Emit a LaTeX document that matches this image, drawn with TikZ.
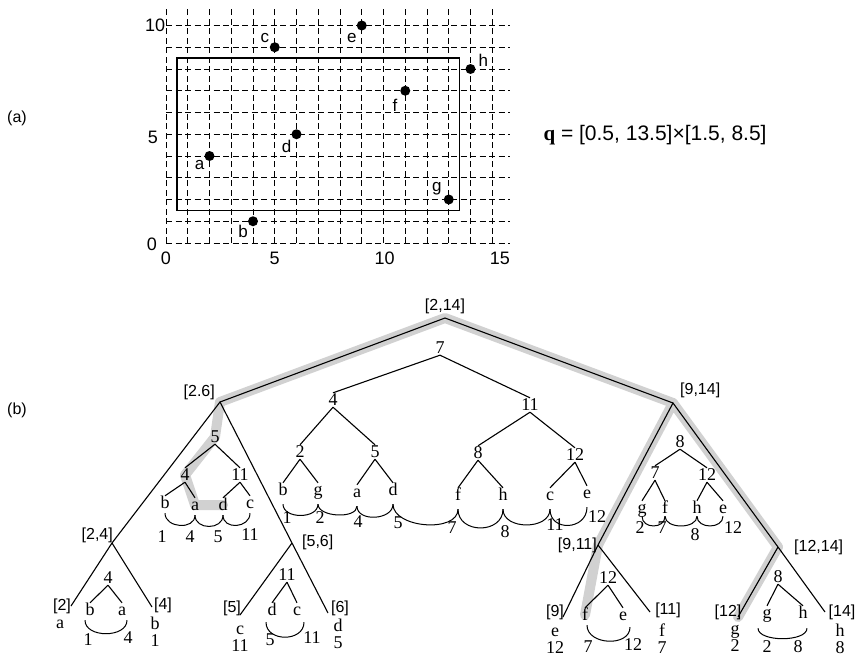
\documentclass[tikz,border=0pt]{standalone}
\usepackage{fontspec}
\setmainfont{Liberation Serif}
\setsansfont{Liberation Sans}
\usetikzlibrary{backgrounds,decorations.pathreplacing}
\newcommand{\fsz}[1]{\fontsize{#1}{#1}\selectfont}

\begin{document}
\begin{tikzpicture}[x=1pt, y=-1pt,
    grid line/.style={dash pattern=on 6pt off 3.5pt, line width=0.8pt},
    pt dot/.style={circle, fill, inner sep=0pt, minimum size=10pt},
    pt lab/.style={font=\sffamily\fsz{17}, inner sep=0pt},
    tick lab/.style={font=\sffamily\fsz{18}, inner sep=0pt},
    rng/.style={font=\sffamily\fsz{16}, inner sep=0pt},
    lbl/.style={font=\rmfamily\fsz{18}, inner sep=0pt, text height=12pt, text depth=2pt},
    stack/.style={font=\rmfamily\fontsize{18}{17}\selectfont, inner sep=0pt, align=center, anchor=north},
    hl band/.style={line width=10pt, black!18, line cap=round, line join=round},
    tline/.style={line width=1.1pt},
    hashed/.style={postaction={decorate, decoration={ticks, segment length=3pt, amplitude=2.5pt}}},
    arcline/.style={line width=1pt}]
\useasboundingbox (0,0) rectangle (863,657);

% (a) point set and query rectangle
\node[font=\sffamily\fsz{16}] (tagA) at (17,118) {(a)};
\begin{scope}[shift={(166,243)}, x=21.75pt, y=21.75pt]
  \foreach \i in {0,...,10}
    \draw[grid line] (0,\i) -- (15.8,\i);
  \foreach \i in {0,...,15}
    \draw[grid line] (\i,0) -- (\i,10.8);
  \draw[line width=1.3pt] (0.5,1.5) rectangle (13.5,8.5);
  \node[tick lab] (xt0) at (0,-0.7) {0};
  \node[tick lab] (xt5) at (5,-0.7) {5};
  \node[tick lab] (xt10) at (10.05,-0.7) {10};
  \node[tick lab] (xt15) at (15.35,-0.7) {15};
  \node[tick lab] (yt0) at (-0.65,-0.05) {0};
  \node[tick lab] (yt5) at (-0.6,4.85) {5};
  \node[tick lab] (yt10) at (-0.5,10) {10};
  \node[pt dot] (pa) at (2,4) {};
  \node[pt dot] (pb) at (4,1) {};
  \node[pt dot] (pc) at (5,9) {};
  \node[pt dot] (pd) at (6,5) {};
  \node[pt dot] (pe) at (9,10) {};
  \node[pt dot] (pf) at (11,7) {};
  \node[pt dot] (pg) at (13,2) {};
  \node[pt dot] (ph) at (14,8) {};
  \node[pt lab] (la) at (1.55,3.6) {a};
  \node[pt lab] (lb) at (3.55,0.52) {b};
  \node[pt lab] (lc) at (4.55,9.41) {c};
  \node[pt lab] (ld) at (5.55,4.43) {d};
  \node[pt lab] (le) at (8.54,9.41) {e};
  \node[pt lab] (lf) at (10.53,6.34) {f};
  \node[pt lab] (lg) at (12.45,2.51) {g};
  \node[pt lab] (lh) at (14.59,8.41) {h};
\end{scope}
\node[anchor=west, font=\sffamily\fsz{21}] (qrange) at (540,135) {{\rmfamily\bfseries q} = [0.5, 13.5]×[1.5, 8.5]};

% (b) range tree
\node[font=\sffamily\fsz{16}] (tagB) at (17,410) {(b)};
\coordinate (r) at (445,318);
\coordinate (L) at (220,402);
\coordinate (R) at (673,403);
\coordinate (L24) at (112,543);
\coordinate (L56) at (292,543);
\coordinate (R911) at (598,545);
\coordinate (R1214) at (778,547);
\coordinate (E2) at (71,606);
\coordinate (E4) at (152,607);
\coordinate (E5) at (240,615);
\coordinate (E6) at (328,613);
\coordinate (E9) at (563,617);
\coordinate (E11) at (650,612);
\coordinate (E12) at (738,617);
\coordinate (E14) at (825,612);

\node[rng, anchor=south] (n214) at (445,314) {[2,14]};
\node[rng, anchor=south east] (n26) at (215,400) {[2.6]};
\node[rng, anchor=south west] (n914) at (680,398) {[9,14]};
\node[rng, anchor=south east] (n24) at (113,543) {[2,4]};
\node[rng, anchor=west] (n56) at (302,542) {[5,6]};
\node[rng, anchor=east] (n911) at (597,545) {[9,11]};
\node[rng, anchor=west] (n1214) at (794,547) {[12,14]};
\node[rng] (n2) at (62,606) {[2]};
\node[rng] (n4) at (163,605) {[4]};
\node[rng] (n5) at (232,608) {[5]};
\node[rng] (n6) at (340,608) {[6]};
\node[rng] (n9) at (555,612) {[9]};
\node[rng] (n11) at (668,610) {[11]};
\node[rng] (n12) at (728,612) {[12]};
\node[rng] (n14) at (842,612) {[14]};

% leaves of the range tree
\node[lbl] (ia) at (60,623) {a};
\node[stack] (ib) at (155,617) {\rule{0pt}{12pt}b\\1};
\node[stack] (ic) at (240,622) {\rule{0pt}{12pt}c\\11};
\node[stack] (id) at (338,619) {\rule{0pt}{12pt}d\\5};
\node[stack] (ie) at (555,624) {\rule{0pt}{12pt}e\\12};
\node[stack] (if) at (662,624) {\rule{0pt}{12pt}f\\7};
\node[stack] (ig) at (735,622) {\rule{0pt}{12pt}g\\2};
\node[stack] (ih) at (840,624) {\rule{0pt}{12pt}h\\8};

% secondary tree of [2,14]
\node[lbl] (m7) at (440,348) {7};
\node[lbl] (m4) at (333,400) {4};
\node[lbl] (m11) at (530,405) {11};
\node[lbl] (m2) at (300,452) {2};
\node[lbl] (m5) at (375,452) {5};
\node[lbl] (m8) at (478,453) {8};
\node[lbl] (m12) at (575,455) {12};
\node[lbl] (mb) at (283,490) {b};
\node[lbl] (mg) at (318,490) {g};
\node[lbl] (ma) at (357,492) {a};
\node[lbl] (md) at (393,490) {d};
\node[lbl] (mf) at (458,495) {f};
\node[lbl] (mh) at (503,495) {h};
\node[lbl] (mc) at (550,495) {c};
\node[lbl] (me) at (587,493) {e};
\node[lbl] (mk1) at (287,518) {1};
\node[lbl] (mk2) at (320,518) {2};
\node[lbl] (mk4) at (358,522) {4};
\node[lbl] (mk5) at (398,523) {5};
\node[lbl] (mk7) at (452,528) {7};
\node[lbl] (mk8) at (505,532) {8};
\node[lbl] (mk11) at (555,525) {11};
\node[lbl] (mk12) at (597,517) {12};

% secondary tree of [2.6]
\node[lbl] (k5) at (215,437) {5};
\node[lbl] (k4) at (185,475) {4};
\node[lbl] (k11) at (240,475) {11};
\node[lbl] (kb) at (165,503) {b};
\node[lbl] (ka) at (195,505) {a};
\node[lbl] (kd) at (223,505) {d};
\node[lbl] (kc) at (250,503) {c};
\node[lbl] (kk1) at (162,537) {1};
\node[lbl] (kk4) at (190,537) {4};
\node[lbl] (kk5) at (218,537) {5};
\node[lbl] (kk11) at (250,535) {11};

% secondary trees of [2,4] and [5,6]
\node[lbl] (p4) at (108,578) {4};
\node[lbl] (pb) at (90,610) {b};
\node[lbl] (pa) at (122,610) {a};
\node[lbl] (pk1) at (88,640) {1};
\node[lbl] (pk4) at (128,638) {4};
\node[lbl] (q11) at (287,575) {11};
\node[lbl] (qd) at (272,610) {d};
\node[lbl] (qc) at (297,610) {c};
\node[lbl] (qk5) at (270,640) {5};
\node[lbl] (qk11) at (312,638) {11};

% secondary tree of [9,14]
\node[lbl] (s8) at (680,442) {8};
\node[lbl] (s7) at (655,473) {7};
\node[lbl] (s12) at (707,475) {12};
\node[lbl] (sg) at (642,508) {g};
\node[lbl] (sf) at (665,508) {f};
\node[lbl] (sh) at (697,508) {h};
\node[lbl] (se) at (723,508) {e};
\node[lbl] (sk2) at (640,528) {2};
\node[lbl] (sk7) at (662,528) {7};
\node[lbl] (sk8) at (695,535) {8};
\node[lbl] (sk12) at (733,528) {12};

% secondary trees of [9,11] and [12,14]
\node[lbl] (u12) at (608,578) {12};
\node[lbl] (uf) at (585,615) {f};
\node[lbl] (ue) at (623,615) {e};
\node[lbl] (uk7) at (588,647) {7};
\node[lbl] (uk12) at (633,645) {12};
\node[lbl] (v8) at (778,577) {8};
\node[lbl] (vg) at (767,613) {g};
\node[lbl] (vh) at (803,613) {h};
\node[lbl] (vk2) at (767,647) {2};
\node[lbl] (vk8) at (798,647) {8};

% primary tree
\draw[tline] (L) -- (r) -- (R);
\draw[tline] (E2) -- (L24) -- (L) -- (L56) -- (E6);
\draw[tline] (L24) -- (E4);
\draw[tline] (L56) -- (E5);
\draw[tline] (E9) -- (R911) -- (R) -- (R1214) -- (E14);
\draw[tline] (R911) -- (E11);
\draw[tline] (R1214) -- (E12);

% secondary tree edges
\foreach \p/\c in {m7/m4, m7/m11, m4/m2, m4/m5, m11/m8, m11/m12,
    m2/mb, m2/mg, m5/ma, m5/md, m8/mf, m8/mh, m12/mc, m12/me,
    k5/k11, k4/kb, k4/ka, k11/kd, k11/kc,
    p4/pb, p4/pa, q11/qd, q11/qc,
    s8/s7, s8/s12, s7/sg, s7/sf, s12/sh, s12/se,
    u12/ue, v8/vg, v8/vh}
  \draw[tline] (\p.south) -- (\c.north);
\draw[tline, hashed] (k5.south) -- (k4.north);
\draw[tline, hashed] (u12.south) -- (uf.north);

% threaded leaf lists
\foreach \a/\b/\h in {mb/mg/15, mg/ma/13, ma/md/16, md/mf/24, mf/mh/25, mh/mc/21, mc/me/23}
  \draw[arcline] ([yshift=-7pt]\a.south) .. controls +(0,\h) and +(0,\h) .. ([yshift=-7pt]\b.south);
\foreach \a/\b in {kb/ka, ka/kd, kd/kc}
  \draw[arcline] ([yshift=-3pt]\a.south) .. controls +(0,15) and +(0,15) .. ([yshift=-3pt]\b.south);
\foreach \a/\b in {sg/sf, sf/sh, sh/se}
  \draw[arcline] ([yshift=-1pt]\a.south) .. controls +(0,13) and +(0,13) .. ([yshift=-1pt]\b.south);
\draw[arcline] ([xshift=-5pt,yshift=-3pt]pb.south) .. controls +(0,18) and +(0,18) .. ([xshift=5pt,yshift=-3pt]pa.south);
\draw[arcline] ([xshift=-6pt,yshift=-5pt]qd.south) .. controls +(0,20) and +(0,20) .. ([xshift=7pt,yshift=-5pt]qc.south);
\draw[arcline] ([xshift=2pt,yshift=-3pt]uf.south) .. controls +(0,20) and +(0,20) .. ([xshift=7pt,yshift=-5pt]ue.south);
\draw[arcline] ([xshift=-9pt,yshift=-8pt]vg.south) .. controls +(0,14) and +(0,14) .. ([xshift=4pt,yshift=-8pt]vh.south);

% shaded search paths
\begin{scope}[on background layer]
  \draw[hl band] (L) -- (r) -- (R);
  \draw[hl band] (L) -- (k5.center) -- (k4.center) -- (ka.center) -- (kd.center);
  \draw[hl band] (R911) -- (R) -- (R1214);
  \draw[hl band] (R911) -- (uf.center);
  \draw[hl band] (R1214) -- (E12);
\end{scope}
\end{tikzpicture}
\end{document}
